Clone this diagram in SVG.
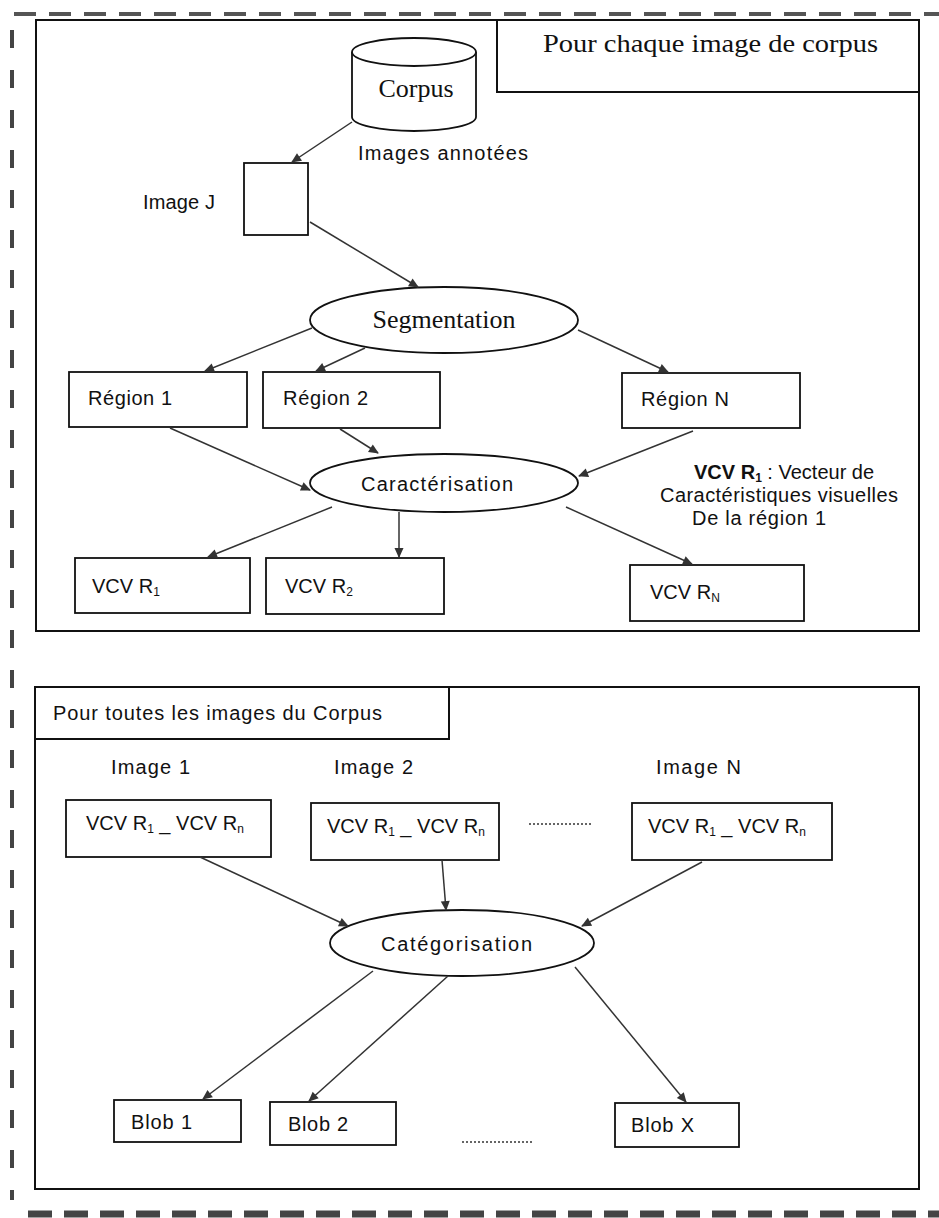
<svg xmlns="http://www.w3.org/2000/svg" width="939" height="1218" viewBox="0 0 939 1218">
<style>
.frame{fill:none;stroke:#111;stroke-width:2}
.box{fill:#fff;stroke:#111;stroke-width:1.8}
.conn{stroke:#333;stroke-width:1.5;fill:none;marker-end:url(#ah)}
.serif{font-family:"Liberation Serif","Times New Roman",serif;font-size:26px;fill:#111}
.sans{font-family:"Liberation Sans",Arial,sans-serif;font-size:20px;fill:#111}
.sub{font-size:12px}
</style>
<defs>
<marker id="ah" viewBox="0 0 10 10" refX="9" refY="5" markerWidth="11" markerHeight="10" markerUnits="userSpaceOnUse" orient="auto"><path d="M0,0.5 L10,5 L0,9.5 z" fill="#333"/></marker>
</defs>
<rect width="939" height="1218" fill="#fff"/>
<g id="outer-border">
<line x1="14" y1="14" x2="939" y2="14" stroke="#555" stroke-width="4" stroke-dasharray="22 13"/>
<line x1="12" y1="30" x2="12" y2="1200" stroke="#444" stroke-width="4" stroke-dasharray="18 22"/>
<line x1="28" y1="1214" x2="939" y2="1214" stroke="#444" stroke-width="7" stroke-dasharray="24 12"/>
</g>
<g id="frame-top">
<rect class="frame" x="36" y="20" width="883" height="611"/>
<rect class="frame" x="497" y="20" width="422" height="72"/>
<text class="serif" x="543" y="52" textLength="335" lengthAdjust="spacingAndGlyphs">Pour chaque image de corpus</text>
</g>
<g id="corpus">
<path d="M352,52 L352,117 A62,14 0 0 0 476,117 L476,52" fill="#fff" stroke="#111" stroke-width="1.8"/>
<ellipse cx="414" cy="52" rx="62" ry="14" fill="#fff" stroke="#111" stroke-width="1.8"/>
<text class="serif" x="416" y="97" text-anchor="middle">Corpus</text>
</g>
<g id="images-annotees"><text class="sans" x="358" y="160" textLength="170">Images annotées</text></g>
<g id="image-j">
<rect class="box" x="244" y="163" width="64" height="72"/>
<text class="sans" x="143" y="209" textLength="72">Image J</text>
</g>
<g id="segmentation">
<ellipse cx="444" cy="320" rx="134" ry="33" fill="#fff" stroke="#111" stroke-width="1.8"/>
<text class="serif" x="444" y="328" text-anchor="middle">Segmentation</text>
</g>
<g id="region-1"><rect class="box" x="69" y="372" width="178" height="55"/><text class="sans" x="88" y="405" textLength="84">Région 1</text></g>
<g id="region-2"><rect class="box" x="263" y="372" width="177" height="56"/><text class="sans" x="283" y="405" textLength="85">Région 2</text></g>
<g id="region-n"><rect class="box" x="622" y="373" width="178" height="55"/><text class="sans" x="641" y="406" textLength="88">Région N</text></g>
<g id="caracterisation">
<ellipse cx="444" cy="483" rx="134" ry="29" fill="#fff" stroke="#111" stroke-width="1.8"/>
<text class="sans" x="361" y="491" textLength="152">Caractérisation</text>
</g>
<g id="vcv-r1"><rect class="box" x="75" y="558" width="175" height="55"/><text class="sans" x="92" y="593">VCV R<tspan class="sub" dy="3">1</tspan></text></g>
<g id="vcv-r2"><rect class="box" x="266" y="558" width="178" height="56"/><text class="sans" x="285" y="593">VCV R<tspan class="sub" dy="3">2</tspan></text></g>
<g id="vcv-rn"><rect class="box" x="630" y="565" width="174" height="56"/><text class="sans" x="650" y="599">VCV R<tspan class="sub" dy="3">N</tspan></text></g>
<g id="annotation">
<text class="sans" x="694" y="479"><tspan font-weight="bold">VCV R</tspan><tspan class="sub" font-weight="bold" dy="3">1</tspan><tspan dy="-3"> : Vecteur de</tspan></text>
<text class="sans" x="660" y="502" textLength="238">Caractéristiques visuelles</text>
<text class="sans" x="692" y="525" textLength="134">De la région 1</text>
</g>
<g id="frame-bottom">
<rect class="frame" x="35" y="687" width="884" height="502"/>
<rect class="frame" x="35" y="687" width="414" height="52"/>
<text class="sans" x="53" y="720" textLength="329">Pour toutes les images du Corpus</text>
</g>
<g id="image-1"><text class="sans" x="111" y="774" textLength="79">Image 1</text><rect class="box" x="66" y="800" width="205" height="57"/><text class="sans" x="86" y="830">VCV R<tspan class="sub" dy="3">1</tspan><tspan dy="-3"> _ VCV R</tspan><tspan class="sub" dy="3">n</tspan></text></g>
<g id="image-2"><text class="sans" x="334" y="774" textLength="79">Image 2</text><rect class="box" x="311" y="803" width="188" height="57"/><text class="sans" x="327" y="833">VCV R<tspan class="sub" dy="3">1</tspan><tspan dy="-3"> _ VCV R</tspan><tspan class="sub" dy="3">n</tspan></text></g>
<g id="image-n"><text class="sans" x="656" y="774" textLength="85">Image N</text><rect class="box" x="632" y="803" width="200" height="57"/><text class="sans" x="648" y="833">VCV R<tspan class="sub" dy="3">1</tspan><tspan dy="-3"> _ VCV R</tspan><tspan class="sub" dy="3">n</tspan></text></g>
<g id="dots-images"><line x1="529" y1="824" x2="591" y2="824" stroke="#333" stroke-width="1.3" stroke-dasharray="2 2"/></g>
<g id="categorisation">
<ellipse cx="462" cy="943" rx="132" ry="33" fill="#fff" stroke="#111" stroke-width="1.8"/>
<text class="sans" x="381" y="951" textLength="151">Catégorisation</text>
</g>
<g id="blob-1"><rect class="box" x="114" y="1100" width="127" height="42"/><text class="sans" x="131" y="1129" textLength="61">Blob 1</text></g>
<g id="blob-2"><rect class="box" x="270" y="1102" width="126" height="43"/><text class="sans" x="288" y="1131" textLength="60">Blob 2</text></g>
<g id="blob-x"><rect class="box" x="615" y="1103" width="124" height="44"/><text class="sans" x="631" y="1132" textLength="63">Blob X</text></g>
<g id="dots-blobs"><line x1="462" y1="1142" x2="532" y2="1142" stroke="#333" stroke-width="1.3" stroke-dasharray="2 2"/></g>
<g id="connectors">
<line class="conn" x1="352" y1="122" x2="292" y2="162"/>
<line class="conn" x1="310" y1="222" x2="418" y2="287"/>
<line class="conn" x1="312" y1="328" x2="205" y2="371"/>
<line class="conn" x1="365" y1="348" x2="316" y2="371"/>
<line class="conn" x1="578" y1="330" x2="668" y2="372"/>
<line class="conn" x1="170" y1="428" x2="310" y2="490"/>
<line class="conn" x1="340" y1="429" x2="378" y2="453"/>
<line class="conn" x1="693" y1="431" x2="579" y2="476"/>
<line class="conn" x1="332" y1="507" x2="208" y2="557"/>
<line class="conn" x1="399" y1="512" x2="399" y2="557"/>
<line class="conn" x1="566" y1="507" x2="692" y2="564"/>
<line class="conn" x1="200" y1="857" x2="348" y2="926"/>
<line class="conn" x1="442" y1="860" x2="446" y2="910"/>
<line class="conn" x1="702" y1="862" x2="582" y2="926"/>
<line class="conn" x1="373" y1="971" x2="203" y2="1099"/>
<line class="conn" x1="448" y1="976" x2="309" y2="1101"/>
<line class="conn" x1="575" y1="967" x2="686" y2="1102"/>
</g>
</svg>
